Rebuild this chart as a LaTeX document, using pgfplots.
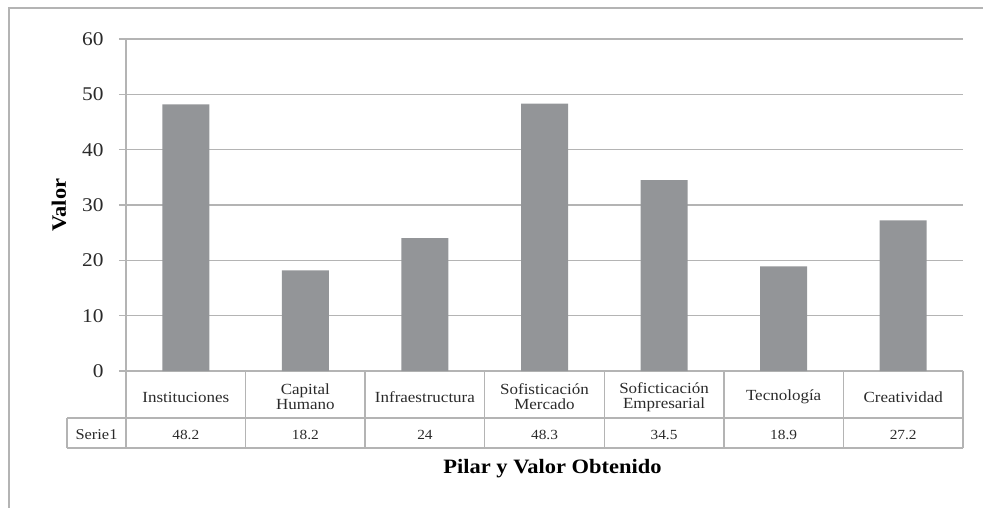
\documentclass[border=0pt]{standalone}
\usepackage{pgfplots}
\pgfplotsset{compat=1.18}
\usepackage{fontspec}
\setmainfont[FakeStretch=1.1]{Liberation Serif}
\definecolor{bargray}{HTML}{939598}
\definecolor{gridgray}{HTML}{B4B4B4}
\definecolor{txt}{HTML}{2A2A2A}
\begin{document}
\begin{tikzpicture}
\path[use as bounding box] (0,0) rectangle (983bp,-508bp);
\draw[gridgray, line width=1.5bp] (9bp,-508bp) -- (9bp,-8bp) -- (983bp,-8bp);
\begin{axis}[
  at={(126bp,-371bp)}, anchor=south west,
  width=837bp, height=332bp, scale only axis,
  xmin=0, xmax=7, ymin=0, ymax=60,
  ytick={0,10,20,30,40,50,60},
  xtick={0.5,1.5,2.5,3.5,4.5,5.5,6.5},
  xticklabels={Instituciones,{Capital\\Humano},Infraestructura,{Sofisticación\\Mercado},{Soficticación\\Empresarial},Tecnología,Creatividad},
  xticklabel style={align=center, anchor=center, yshift=-19bp, text=txt, font=\fontsize{15.5}{15}\selectfont},
  yticklabel style={text=txt, font=\fontsize{19.5}{20}\selectfont, xshift=-12bp},
  /pgf/number format/assume math mode=true,
  axis x line=bottom, axis y line=left,
  axis line style={gridgray, line width=1.5bp, -},
  x tick style={draw=none},
  y tick style={gridgray, line width=1.5bp},
  tick align=outside, major tick length=7bp,
  ymajorgrids, grid style={gridgray, line width=1.5bp},
  ylabel={\textbf{Valor}},
  ylabel style={at={(rel axis cs:0,0.5)}, anchor=center, yshift=67bp, font=\fontsize{20.5}{22}\selectfont, text=black},
  xlabel={\textbf{Pilar y Valor Obtenido}},
  xlabel style={at={(rel axis cs:0.5,0)}, anchor=center, xshift=8bp, yshift=-98bp, font=\fontsize{20.5}{22}\selectfont, text=black},
  clip=false,
]
\addplot[ybar, bar width=47bp, fill=bargray, draw=none] coordinates {
  (0.5,48.2) (1.5,18.2) (2.5,24) (3.5,48.3) (4.5,34.5) (5.5,18.9) (6.5,27.2)
};
\end{axis}
% data table
\foreach \k in {0,...,7} {
  \draw[gridgray, line width=1.5bp] ({126bp+\k*119.571bp},-371bp) -- ({126bp+\k*119.571bp},-448bp);
}
\draw[gridgray, line width=1.5bp] (67bp,-418bp) -- (963bp,-418bp);
\draw[gridgray, line width=1.5bp] (67bp,-448bp) -- (963bp,-448bp);
\draw[gridgray, line width=1.5bp] (67bp,-418bp) -- (67bp,-448bp);
\node[text=txt, font=\fontsize{15}{15}\selectfont] at (96.5bp,-435bp) {Serie1};
\foreach \v [count=\i from 0] in {48.2,18.2,24,48.3,34.5,18.9,27.2} {
  \node[text=txt, font=\fontsize{14}{15}\selectfont] at ({126bp+(\i+0.5)*119.571bp},-435bp) {\v};
}
\end{tikzpicture}
\end{document}
